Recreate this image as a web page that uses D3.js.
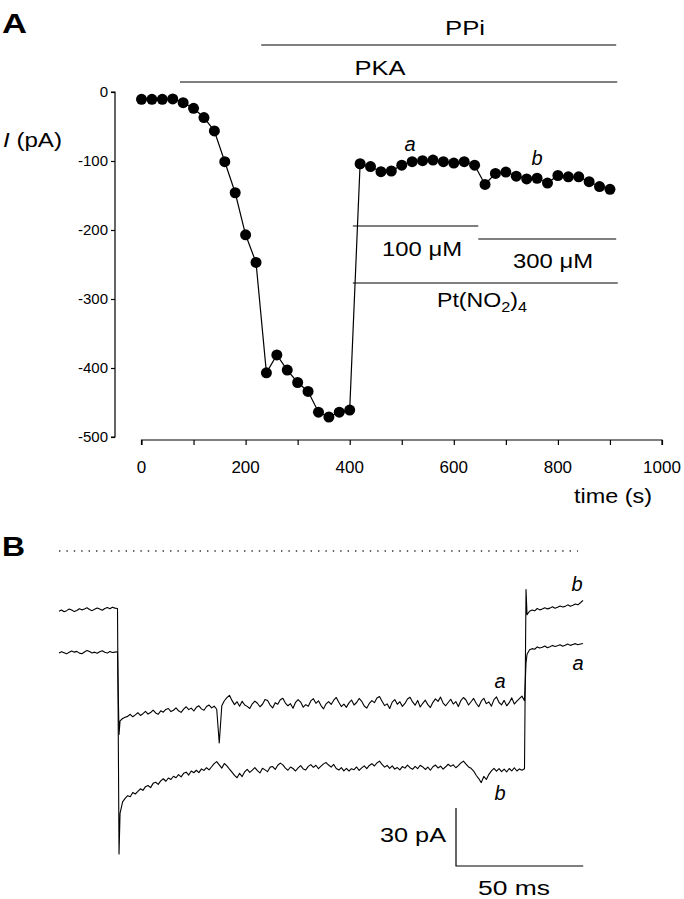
<!DOCTYPE html>
<html><head><meta charset="utf-8">
<script src="https://cdn.jsdelivr.net/npm/d3@7/dist/d3.min.js"></script>
<style>
html,body{margin:0;padding:0;background:#fff;}
svg{display:block;font-family:"Liberation Sans",Arial,sans-serif;}
</style></head>
<body>
<svg id="fig" width="684" height="899"></svg>
<script>
// ---------- Panel A data ----------
const timeA = [0,20,40,60,80,100,120,140,160,180,200,220,240,260,280,300,320,340,360,380,400,
  420,440,460,480,500,520,540,560,580,600,620,640,660,680,700,720,740,760,780,800,820,840,860,880,900];
const currentA = [-10.6,-10.6,-10.6,-10,-15.5,-23.6,-37,-56.5,-101,-146,-207,-247,-407,-381,-403,-421,-434,-464,-471,-464,-461,
  -104,-108,-115.5,-114.5,-106,-101,-99.6,-98.6,-101,-103,-101,-106,-134,-118,-116,-122,-126,-125,-132,-121,-123,-123,-130,-137,-141];
const xTicksA = [0,100,200,300,400,500,600,700,800,900,1000];
const xTickLabelsA = [0,200,400,600,800,1000];
const yTicksA = [0,-100,-200,-300,-400,-500];
// application bars [start s, end s]
const barPPi = [230, 912];
const barPKA = [74, 914];
const bar100 = [406, 647];
const bar300 = [647, 912];
const barPt = [406, 915];

// ---------- Panel B data (currents in pA, sampled every 1 ms from t = 0) ----------
const traceB = [
  // pre-pulse 0..23 ms
  -31.2,-30.6,-31.5,-30.9,-30.1,-30.6,-31.4,-30.8,-29.9,-30.5,-30.0,-29.4,-30.3,-30.9,-30.2,-29.5,-30.1,-30.7,-29.8,-29.3,-29.9,-29.1,-29.6,-29.8,
  // pulse 24..183 ms
  -136,-130,-128.2,-126.8,-127.3,-125.1,-125.9,-124.6,-123.2,-124.0,
  -122.1,-121.5,-122.6,-120.4,-119.8,-120.9,-119.1,-118.0,-119.3,-117.6,
  -118.4,-116.7,-117.5,-115.9,-117.0,-115.2,-114.6,-116.1,-114.0,-114.9,
  -113.6,-114.8,-112.9,-113.7,-112.3,-113.4,-111.8,-110.2,-109.1,-110.8,
  -112.5,-110.1,-111.3,-113.0,-114.6,-116.3,-117.5,-115.2,-116.9,-114.4,
  -113.1,-114.7,-113.5,-112.2,-113.8,-115.0,-112.6,-113.4,-114.3,-112.0,
  -111.7,-113.2,-111.0,-109.9,-110.8,-112.5,-113.6,-111.9,-112.7,-114.0,
  -112.4,-111.2,-112.9,-113.5,-111.6,-110.7,-112.1,-111.0,-112.8,-111.5,
  -110.3,-109.6,-110.9,-112.0,-110.6,-112.7,-113.5,-112.2,-113.9,-112.6,
  -114.0,-112.8,-113.3,-111.9,-113.7,-112.4,-111.3,-112.8,-111.1,-110.2,
  -111.4,-109.8,-108.9,-110.6,-112.0,-111.1,-112.6,-111.3,-113.0,-112.2,
  -113.4,-111.7,-112.5,-110.9,-112.3,-113.1,-111.6,-112.8,-111.0,-111.9,
  -113.2,-112.0,-113.6,-111.8,-110.9,-112.4,-111.5,-113.0,-111.8,-110.5,
  -111.6,-110.8,-112.3,-111.2,-109.8,-108.9,-110.4,-111.9,-112.6,-114.0,
  -116.2,-117.9,-120.0,-116.8,-118.4,-115.7,-113.9,-112.6,-114.1,-112.8,
  -114.3,-113.0,-114.5,-112.7,-113.9,-112.3,-114.0,-112.9,-113.6,-112.8,
  // post-pulse 184..206 ms
  -33,-31.2,-30.6,-31.0,-29.8,-30.5,-30.1,-29.4,-30.0,-29.6,-28.9,-29.7,-29.2,-28.5,-29.0,-28.7,-27.9,-28.6,-28.1,-27.5,-27.9,-26.8,-25.6
];
const traceA = [
  // pre-pulse 0..23 ms
  -52.9,-52.2,-52.7,-53.3,-52.5,-51.8,-52.4,-52.0,-52.9,-53.2,-52.3,-51.5,-52.1,-52.8,-52.4,-53.0,-52.2,-51.7,-52.5,-52.9,-52.1,-52.6,-52.4,-52.2,
  // pulse 24..183 ms
  -88,-86.8,-86.1,-85.7,-84.6,-85.9,-84.9,-83.8,-85.2,-84.3,
  -83.1,-84.5,-83.7,-82.4,-83.9,-84.6,-82.8,-83.5,-82.1,-81.6,
  -83.2,-82.5,-81.3,-82.8,-83.6,-81.9,-80.7,-82.2,-81.4,-82.9,
  -81.0,-80.2,-81.8,-82.5,-80.6,-79.8,-81.3,-80.4,-82.0,-99.5,
  -80.2,-77.6,-76.0,-74.8,-77.4,-79.6,-78.1,-80.4,-77.9,-79.8,
  -80.5,-81.6,-79.2,-77.8,-78.9,-80.7,-79.4,-76.9,-77.5,-79.8,
  -81.3,-78.6,-79.4,-77.1,-76.3,-78.8,-80.2,-79.1,-81.5,-78.4,
  -77.0,-78.3,-80.9,-79.6,-80.4,-77.7,-76.5,-78.9,-77.6,-80.1,
  -81.8,-79.2,-78.0,-79.5,-77.3,-75.9,-78.4,-80.6,-79.3,-81.0,
  -78.7,-77.2,-79.8,-78.5,-76.4,-77.9,-80.3,-81.4,-79.0,-77.5,
  -78.6,-76.2,-75.4,-77.8,-80.1,-79.2,-81.6,-78.3,-77.0,-79.4,
  -78.1,-80.5,-79.0,-76.7,-75.8,-78.2,-79.9,-77.4,-80.8,-78.9,
  -77.3,-79.6,-81.1,-78.4,-76.6,-77.9,-75.7,-78.8,-80.2,-78.5,
  -76.8,-79.3,-78.0,-80.6,-77.5,-75.9,-77.2,-79.8,-78.1,-76.4,
  -78.9,-80.7,-77.8,-76.3,-79.1,-78.2,-80.4,-77.0,-75.6,-78.5,
  -79.7,-77.4,-80.2,-78.6,-76.1,-79.3,-77.8,-76.5,-75.2,-77.6,
  // post-pulse 184..206 ms
  -53.5,-51.2,-50.6,-50.9,-49.7,-50.3,-49.9,-49.2,-50.1,-49.6,-48.9,-49.5,-49.1,-48.6,-49.3,-48.8,-48.2,-48.9,-48.4,-48.0,-48.6,-48.2,-47.9
];
// capacitive transients [ms, pA]
const transientsB = [[23.6,-157],[183.6,-20]];
const transientsA = [[23.6,-95],[183.6,-58]];
const scaleBarCurrent = 30; // pA
const scaleBarTime = 50;    // ms

// ---------- drawing ----------
const svg = d3.select("#fig");

// Panel A scales
const xA = d3.scaleLinear().domain([0,1000]).range([141.5,662]);
const yA = d3.scaleLinear().domain([-500,0]).range([437,92]);

svg.append("text").attr("x",2).attr("y",33).attr("font-size",28).attr("font-weight","bold")
  .attr("textLength",25).attr("lengthAdjust","spacingAndGlyphs").text("A");

// x axis
const gx = svg.append("g").attr("transform","translate(0,440)")
  .call(d3.axisBottom(xA).tickValues(xTicksA).tickSize(5).tickFormat(""));
gx.select(".domain").attr("d",`M${xA(0)},5V0H${xA(1000)}V5`);
gx.selectAll("line,path").attr("stroke","#000").attr("stroke-width",1.2);
svg.append("g").selectAll("text").data(xTickLabelsA).join("text")
  .attr("x",d=>xA(d)).attr("y",473).attr("text-anchor","middle")
  .attr("font-size",17).text(d=>d);
svg.append("text").attr("x",613).attr("y",503).attr("text-anchor","middle")
  .attr("font-size",20).attr("textLength",78).attr("lengthAdjust","spacingAndGlyphs").text("time (s)");

// y axis
const gy = svg.append("g").attr("transform","translate(115,0)")
  .call(d3.axisLeft(yA).tickValues(yTicksA).tickSize(4).tickFormat(""));
gy.select(".domain").attr("d",`M-4,${yA(0)}H0V${yA(-500)}H-4`);
gy.selectAll("line,path").attr("stroke","#000").attr("stroke-width",1.2);
svg.append("g").selectAll("text").data(yTicksA).join("text")
  .attr("x",108).attr("y",d=>yA(d)+5).attr("text-anchor","end")
  .attr("font-size",15).text(d=>d);
const yl = svg.append("text").attr("x",3).attr("y",147).attr("font-size",20)
  .attr("textLength",59).attr("lengthAdjust","spacingAndGlyphs");
yl.append("tspan").attr("font-style","italic").text("I");
yl.append("tspan").text(" (pA)");

// bars
function bar(range, y){
  svg.append("line").attr("x1",xA(range[0])).attr("x2",xA(range[1]))
    .attr("y1",y).attr("y2",y).attr("stroke","#000").attr("stroke-width",1.2);
}
bar(barPPi,45); bar(barPKA,82); bar(bar100,226); bar(bar300,239); bar(barPt,283);
function label(txt,cx,y,w,italic){
  const t = svg.append("text").attr("x",cx).attr("y",y).attr("text-anchor","middle")
    .attr("font-size",20).text(txt);
  if(w) t.attr("textLength",w).attr("lengthAdjust","spacingAndGlyphs");
  if(italic) t.attr("font-style","italic");
  return t;
}
label("PPi",465,35,40);
label("PKA",380,75,51);
label("100 μM",422,256,80);
label("300 μM",553,268,80);
const pt = svg.append("text").attr("x",437).attr("y",307).attr("font-size",20)
  .attr("textLength",90).attr("lengthAdjust","spacingAndGlyphs");
pt.append("tspan").text("Pt(NO");
pt.append("tspan").attr("font-size",14).attr("dy",5).text("2");
pt.append("tspan").attr("dy",-5).text(")");
pt.append("tspan").attr("font-size",14).attr("dy",5).text("4");
label("a",410,151,null,true);
label("b",537,165,null,true);

// data
const ptsA = timeA.map((t,i)=>[t,currentA[i]]);
svg.append("path").datum(ptsA)
  .attr("d",d3.line().x(d=>xA(d[0])).y(d=>yA(d[1])))
  .attr("fill","none").attr("stroke","#000").attr("stroke-width",1.2);
svg.append("g").selectAll("circle").data(ptsA).join("circle")
  .attr("cx",d=>xA(d[0])).attr("cy",d=>yA(d[1])).attr("r",5.5).attr("fill","#000");

// ---------- Panel B ----------
const xB = d3.scaleLinear().domain([0,206]).range([59,583]);
const yB = d3.scaleLinear().domain([-160,0]).range([551+160*1.93,551]);

svg.append("text").attr("x",2).attr("y",556).attr("font-size",28).attr("font-weight","bold")
  .attr("textLength",23).attr("lengthAdjust","spacingAndGlyphs").text("B");

// zero-current dotted line
svg.append("line").attr("x1",xB(0)).attr("x2",xB(204)).attr("y1",yB(0)).attr("y2",yB(0))
  .attr("stroke","#333").attr("stroke-width",1.4).attr("stroke-dasharray","1.4,6");

function tracePts(arr, trans){
  const p = arr.map((v,i)=>[i,v]).concat(trans);
  return p.sort((a,b)=>a[0]-b[0]);
}
const lineB = d3.line().x(d=>xB(d[0])).y(d=>yB(d[1]));
[tracePts(traceA,transientsA), tracePts(traceB,transientsB)].forEach(p=>{
  svg.append("path").datum(p).attr("d",lineB).attr("fill","none")
    .attr("stroke","#000").attr("stroke-width",1.1).attr("stroke-linejoin","round");
});
label("b",577,591,null,true);
label("a",578,670,null,true);
label("a",500,688,null,true);
label("b",500,800,null,true);

// scale bar
const sbX = 456, sbY = 866;
svg.append("path")
  .attr("d",`M${sbX},${sbY-(yB(0)-yB(scaleBarCurrent))}V${sbY}H${sbX+(xB(scaleBarTime)-xB(0))}`)
  .attr("fill","none").attr("stroke","#000").attr("stroke-width",1.2);
svg.append("text").attr("x",446).attr("y",842).attr("text-anchor","end").attr("font-size",20)
  .attr("textLength",66).attr("lengthAdjust","spacingAndGlyphs").text(`${scaleBarCurrent} pA`);
svg.append("text").attr("x",514).attr("y",895).attr("text-anchor","middle").attr("font-size",20)
  .attr("textLength",72).attr("lengthAdjust","spacingAndGlyphs").text(`${scaleBarTime} ms`);
</script>
</body></html>
